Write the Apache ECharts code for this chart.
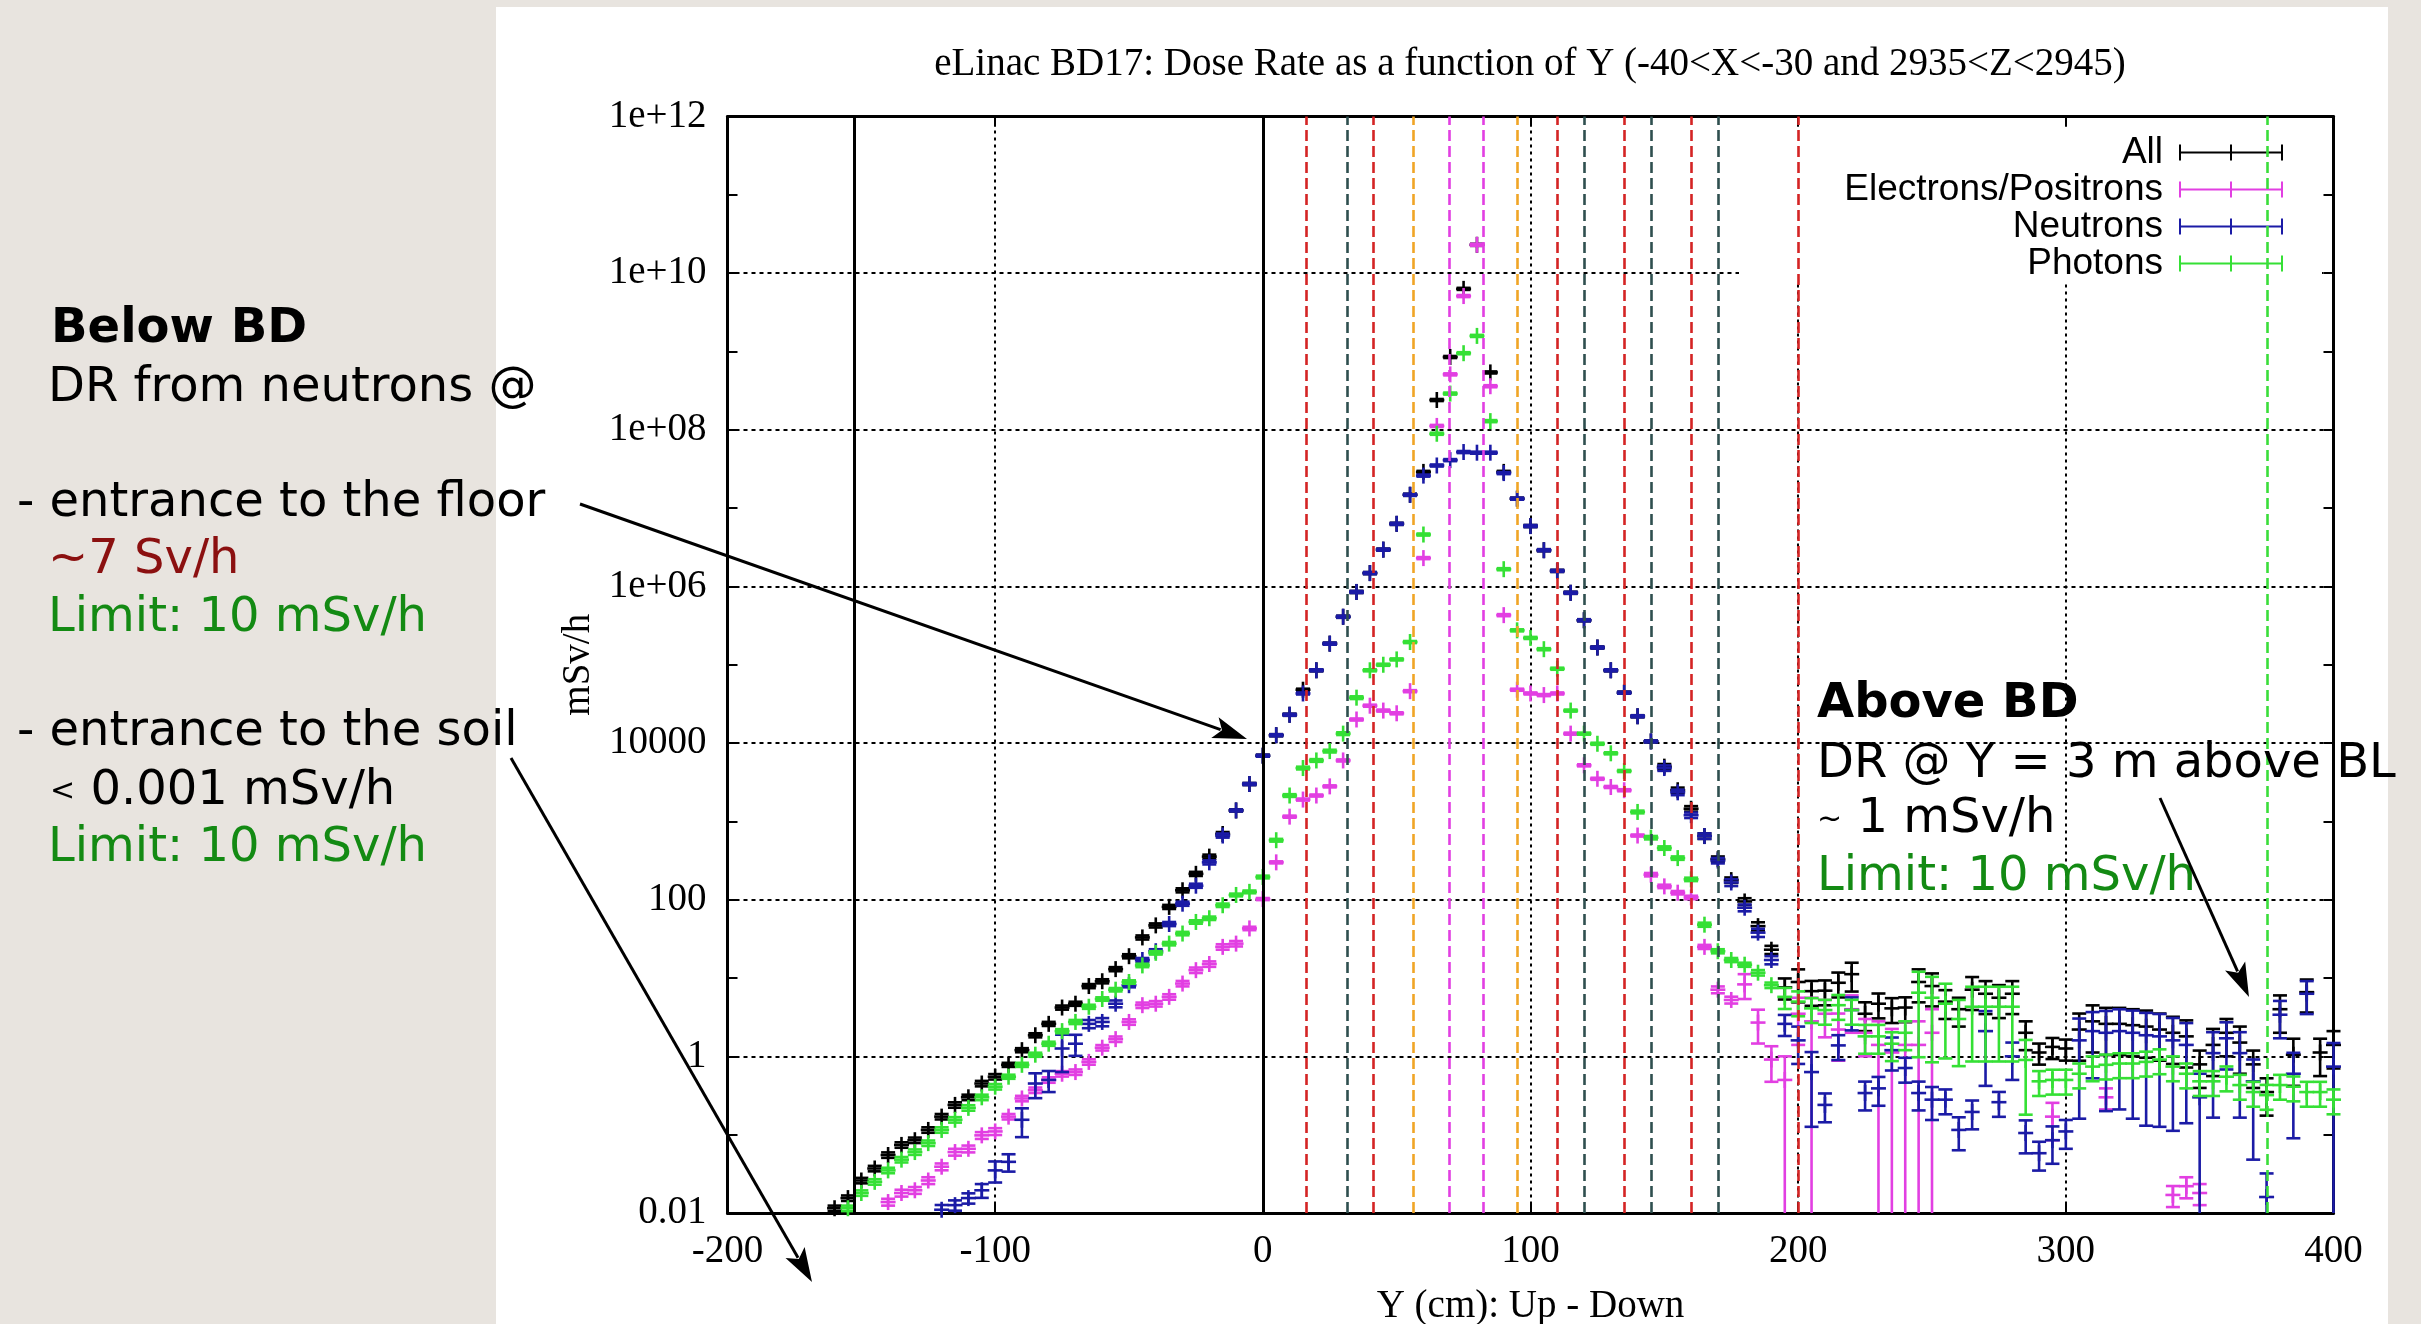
<!DOCTYPE html>
<html><head><meta charset="utf-8">
<script src="https://cdn.jsdelivr.net/npm/echarts@6/dist/echarts.min.js"></script>
<style>
html,body{margin:0;padding:0;background:#e8e4df;width:2421px;height:1324px;overflow:hidden;}
#panel{position:absolute;left:496px;top:7px;width:1892px;height:1317px;background:#fff;}
#chart{position:absolute;left:0;top:0;width:2421px;height:1324px;}
</style></head><body>
<div id="panel"></div>
<div id="chart"></div>
<script>
// ---------- DATA ----------
const titleText = 'eLinac BD17: Dose Rate as a function of Y (-40<X<-30 and 2935<Z<2945)';
const xAxisName = 'Y (cm): Up - Down';
const yAxisName = 'mSv/h';
const yTickExponents = [-2, 0, 2, 4, 6, 8, 10, 12];
const yTickLabels = ['0.01', '1', '100', '10000', '1e+06', '1e+08', '1e+10', '1e+12'];
const seriesNames = ['All', 'Electrons/Positrons', 'Neutrons', 'Photons'];

// bin centres (cm)
const yPositions = [
 -160,-155,-150,-145,-140,-135,-130,-125,-120,-115,
 -110,-105,-100,-95,-90,-85,-80,-75,-70,-65,
 -60,-55,-50,-45,-40,-35,-30,-25,-20,-15,
 -10,-5,0,5,10,15,20,25,30,35,
 40,45,50,55,60,65,70,75,80,85,
 90,95,100,105,110,115,120,125,130,135,
 140,145,150,155,160,165,170,175,180,185,
 190,195,200,205,210,215,220,225,230,235,
 240,245,250,255,260,265,270,275,280,285,
 290,295,300,305,310,315,320,325,330,335,
 340,345,350,355,360,365,370,375,380,385,
 390,395,400];

// dose rates (mSv/h)
const allValues = [
 1.15e-2,1.55e-2,2.6e-2,3.7e-2,5.5e-2,7.4e-2,8.5e-2,0.115,0.17,0.24,
 0.30,0.45,0.55,0.78,1.2,1.86,2.6,4.2,4.7,7.9,
 9.1,13,19,33,47,81,132,214,355,690,
 1380,3000,6900,1.26e4,2.3e4,4.8e4,8.5e4,1.86e5,4.1e5,8.5e5,
 1.48e6,2.95e6,6.3e6,1.48e7,2.9e7,2.4e8,8.5e8,6.3e9,2.3e10,5.4e8,
 2.9e7,1.32e7,5.9e6,2.9e6,1.58e6,8.3e5,3.7e5,1.66e5,8.5e4,4.4e4,
 2.2e4,1.05e4,5000,2500,1450,650,330,178,95,46,
 23,7.6,8.9,6.8,6.9,8.7,11.2,3.5,4.7,4.1,
 4.2,8.9,7.9,5.0,4.0,7.1,6.3,5.6,6.3,2.0,
 1.12,1.32,1.26,2.2,2.8,2.6,2.6,2.5,2.4,2.2,
 2.0,1.8,0.79,1.4,2.0,1.5,0.79,0.35,4.0,1.05,
 6.6,1.12,1.4];
const allErrors = [
 .08,.08,.08,.08,.08,.08,.08,.08,.08,.08,
 .08,.08,.08,.06,.06,.06,.06,.06,.06,.06,
 .06,.06,.06,.06,.06,.06,.06,.06,.06,.06,
 .03,.03,.03,.03,.03,.03,.03,.03,.03,.03,
 .03,.03,.03,.03,.03,.03,.03,.03,.03,.03,
 .03,.03,.03,.03,.03,.03,.03,.03,.03,.03,
 .03,.03,.08,.08,.08,.08,.08,.08,.1,.12,
 .12,.3,.45,.35,.35,.35,.4,.4,.35,.35,
 .35,.45,.45,.4,.4,.45,.45,.45,.45,.4,
 .3,.3,.3,.6,.6,.6,.6,.6,.6,.6,
 .6,.6,.5,.6,.5,.6,.5,.5,.5,.6,
 .45,.5,.5];

const electronValues = [
 null,null,null,null,1.38e-2,1.8e-2,1.95e-2,2.6e-2,3.9e-2,6.0e-2,
 6.6e-2,9.8e-2,0.11,0.17,0.29,0.37,0.5,0.6,0.63,0.85,
 1.29,1.66,2.75,4.5,4.7,5.75,8.5,12.6,15.1,25,
 27.5,43,102,300,1150,1900,2140,2800,6000,2.0e4,
 3.0e4,2.6e4,2.4e4,4.6e4,2.3e6,1.12e8,5.1e8,5.1e9,2.3e10,3.6e8,
 4.3e5,4.8e4,4.3e4,4.1e4,4.3e4,1.32e4,5200,3500,2750,2500,
 660,209,148,123,107,25,7.1,5.25,8.3,2.7,
 0.91,0.5,3.5,2.8,3.5,2.2,4.0,2.0,1.4,1.12,
 1.4,1.4,2.0,null,null,null,null,null,null,null,
 null,0.17,null,null,null,0.3,null,null,null,null,
 1.7e-2,2.2e-2,1.8e-2,null,null,null,null,null,null,null,
 null,null,null];
const electronErrors = [
 null,null,null,null,.1,.1,.1,.1,.1,.1,
 .1,.1,.1,.08,.08,.08,.08,.08,.08,.08,
 .08,.08,.08,.08,.08,.08,.08,.08,.08,.08,
 .08,.05,.03,.03,.03,.03,.03,.03,.03,.03,
 .03,.03,.03,.03,.03,.03,.03,.03,.03,.03,
 .03,.03,.03,.03,.03,.03,.03,.03,.03,.03,
 .03,.05,.05,.05,.05,.06,.1,.1,.35,.46,
 .48,1,.6,1,.5,.6,.5,.5,1,1,
 1,1,1,null,null,null,null,null,null,null,
 null,.5,null,null,null,.3,null,null,null,null,
 .3,.3,.3,null,null,null,null,null,null,null,
 null,null,null];

const neutronValues = [
 null,null,null,null,null,null,null,null,1.1e-2,1.26e-2,
 1.55e-2,1.95e-2,3.5e-2,4.5e-2,0.155,0.45,0.5,1.26,1.45,2.6,
 2.75,4.7,8.1,17,22,49,89,151,300,660,
 1380,3000,6900,1.26e4,2.3e4,4.3e4,8.5e4,1.86e5,4.1e5,8.5e5,
 1.48e6,2.95e6,6.3e6,1.48e7,2.6e7,3.5e7,4.1e7,5.2e7,5.1e7,5.1e7,
 2.8e7,1.32e7,5.9e6,2.9e6,1.58e6,8.3e5,3.7e5,1.66e5,8.5e4,4.4e4,
 2.2e4,1.05e4,4800,2350,1200,650,316,166,79,38,
 17,2.6,1.6,0.63,0.24,1.38,3.9,0.34,0.39,1.2,
 0.71,0.34,0.28,0.28,0.115,0.195,2.1,0.26,1.0,0.105,
 0.058,0.085,0.11,1.6,2.1,2.0,2.1,2.0,1.86,1.8,
 1.6,1.4,0.3,1.1,1.7,1.1,0.48,0.016,3.4,0.6,
 6.3,null,0.74];
const neutronErrors = [
 null,null,null,null,null,null,null,null,.15,.15,
 .15,.2,.3,.25,.4,.35,.3,.5,.3,.12,
 .12,.1,.06,.06,.06,.06,.06,.06,.06,.06,
 .03,.03,.03,.03,.03,.03,.03,.03,.03,.03,
 .03,.03,.03,.03,.03,.03,.03,.03,.03,.03,
 .03,.03,.03,.03,.03,.03,.03,.03,.03,.03,
 .03,.03,.08,.08,.08,.08,.08,.1,.1,.12,
 .12,.3,.5,.8,.4,.35,.45,.4,.4,.45,
 .35,.4,.45,.35,.45,.4,.8,.35,.5,.45,
 .4,.5,.4,.9,.75,.9,.9,.92,.93,.93,
 .93,.9,1,.85,.6,.85,.9,1,.5,.85,
 .45,null,1];

const photonValues = [
 null,1.15e-2,1.8e-2,2.5e-2,3.5e-2,4.8e-2,6.0e-2,7.8e-2,0.115,0.155,
 0.22,0.30,0.41,0.55,0.78,1.05,1.45,2.1,2.75,4.3,
 5.4,7.1,8.9,14.5,21,27.5,37,52,58,85,
 115,126,195,575,2140,4800,6000,7900,1.32e4,3.8e4,
 8.5e4,1.0e5,1.17e5,1.95e5,4.6e6,8.9e7,2.9e8,9.5e8,1.58e9,1.29e8,
 1.66e6,2.75e5,2.2e5,1.58e5,8.9e4,2.6e4,1.32e4,9800,7400,4400,
 1320,620,457,340,182,48,22,17,14.8,11.7,
 8.1,5.75,5.0,4.1,3.9,4.5,3.9,1.8,1.8,1.45,
 2.0,6.5,5.6,4.7,3.0,4.3,4.3,4.3,4.3,0.9,
 0.48,0.5,0.5,0.6,0.74,0.78,0.81,0.81,0.85,0.91,
 0.74,0.6,0.48,0.48,0.55,0.43,0.35,0.32,0.43,0.41,
 0.35,0.35,0.28];
const photonErrors = [
 null,.08,.08,.08,.08,.08,.08,.08,.08,.08,
 .08,.08,.08,.06,.06,.06,.06,.06,.06,.06,
 .05,.05,.05,.05,.05,.05,.05,.05,.05,.05,
 .04,.04,.04,.04,.04,.04,.04,.04,.04,.04,
 .03,.03,.03,.03,.03,.03,.03,.03,.03,.03,
 .03,.03,.03,.03,.03,.03,.03,.03,.03,.03,
 .04,.05,.05,.05,.05,.06,.06,.06,.06,.08,
 .08,.3,.35,.35,.35,.35,.35,.4,.4,.4,
 .4,.85,.85,.8,.75,.8,.8,.8,.8,.8,
 .35,.35,.35,.35,.35,.35,.35,.35,.35,.35,
 .35,.35,.35,.35,.35,.35,.35,.35,.35,.35,
 .35,.35,.35];

// vertical reference lines (cm)
const boundaryX = [-152.5, 0, 16.3, 31.6, 41.1, 56.2, 69.6, 82.4, 95.1, 110, 120.2, 135.2, 145, 160, 170, 200, 375.4];
const boundaryKind = ['wall','wall','red','slate','red','orange','magenta','magenta','orange','red','slate','red','slate','red','slate','red','green'];

// annotation texts
const leftNotes = [
 {text:'Below BD', bold:true, color:'#000'},
 {text:'DR from neutrons @', color:'#000'},
 {text:'- entrance to the floor', color:'#000'},
 {text:'~7 Sv/h', color:'#8b1010'},
 {text:'Limit: 10 mSv/h', color:'#138a13'},
 {text:'- entrance to the soil', color:'#000'},
 {text:'{s|<} 0.001 mSv/h', color:'#000'},
 {text:'Limit: 10 mSv/h', color:'#138a13'}
];
const rightNotes = [
 {text:'Above BD', bold:true, color:'#000'},
 {text:'DR @ Y = 3 m above BL', color:'#000'},
 {text:'{s|~} 1 mSv/h', color:'#000'},
 {text:'Limit: 10 mSv/h', color:'#138a13'}
];

// ---------- STYLE / LAYOUT ----------
const seriesColors = ['#000000', '#e23fe2', '#1b1ba6', '#35e035'];
const kindStyle = {
  wall:    {color:'#000000', width:3, type:'solid'},
  red:     {color:'#d42424', width:2.6, type:[11,5]},
  slate:   {color:'#2f4f4f', width:2.6, type:[11,5]},
  orange:  {color:'#f0a526', width:2.6, type:[11,5]},
  magenta: {color:'#e23fe2', width:2.6, type:[11,5]},
  green:   {color:'#3ade3a', width:2.6, type:[11,5]}
};
const Y_MIN = 0.01, Y_MAX = 1e12;

function buildData(vals, errs) {
  const out = [];
  for (let i = 0; i < yPositions.length; i++) {
    const v = vals[i];
    if (v == null) continue;
    const e = errs[i] || 0;
    let lo = v * (1 - e), clipped = 0;
    if (lo <= Y_MIN) { lo = Y_MIN; clipped = 1; }
    out.push([yPositions[i], v, lo, v * (1 + e), clipped]);
  }
  return out;
}

function renderErrorPoint(params, api) {
  const x = api.value(0), y = api.value(1), lo = api.value(2), hi = api.value(3), clipped = api.value(4);
  const c = api.coord([x, y]);
  const pl = api.coord([x, lo]);
  const ph = api.coord([x, hi]);
  const color = api.visual('color');
  const st = {stroke: color, lineWidth: 2.6, fill: null};
  const hw = 7.5, hh = 8, cw = 7;
  const kids = [
    {type:'line', shape:{x1:c[0]-hw, y1:c[1], x2:c[0]+hw, y2:c[1]}, style:st},
    {type:'line', shape:{x1:c[0], y1:c[1]-hh, x2:c[0], y2:c[1]+hh}, style:st},
    {type:'line', shape:{x1:c[0], y1:pl[1], x2:c[0], y2:ph[1]}, style:st},
    {type:'line', shape:{x1:c[0]-cw, y1:ph[1], x2:c[0]+cw, y2:ph[1]}, style:st}
  ];
  if (!clipped) kids.push({type:'line', shape:{x1:c[0]-cw, y1:pl[1], x2:c[0]+cw, y2:pl[1]}, style:st});
  return {type:'group', children:kids};
}

function arrow(x1, y1, x2, y2) {
  const dx = x2 - x1, dy = y2 - y1, L = Math.hypot(dx, dy), ux = dx / L, uy = dy / L;
  const hl = 34, hw = 11;
  const bx = x2 - ux * hl, by = y2 - uy * hl;
  return [
    {type:'line', z:20, silent:true, shape:{x1:x1, y1:y1, x2:bx + ux*6, y2:by + uy*6}, style:{stroke:'#000', lineWidth:3}},
    {type:'polygon', z:20, silent:true, shape:{points:[[x2,y2],[bx - uy*hw, by + ux*hw],[x2 - ux*hl*0.78, y2 - uy*hl*0.78],[bx + uy*hw, by - ux*hw]]}, style:{fill:'#000'}}
  ];
}

function noteText(n, x, y) {
  return {type:'text', z:20, silent:true, style:{
    text:n.text, x:x, y:y, fill:n.color, fontFamily:'DejaVu Sans', fontSize:48,
    fontWeight:n.bold ? 'bold' : 'normal', align:'left', verticalAlign:'middle',
    rich:{s:{fontSize:30, fontFamily:'DejaVu Sans', fill:n.color, verticalAlign:'middle'}}
  }};
}

const leftXs = [51, 48, 17, 48, 48, 17, 50, 48];
const leftYs = [330, 389, 504, 561, 619, 733, 792, 849];
const rightYs = [705, 765, 820, 878];

const graphics = [
  {type:'rect', z:1, silent:true, shape:{x:1739, y:128, width:583, height:154}, style:{fill:'#ffffff'}},
  {type:'text', z:20, silent:true, style:{text:titleText, x:1530, y:65, fill:'#000', fontFamily:'Liberation Serif', fontSize:39, align:'center', verticalAlign:'middle'}}
];
leftNotes.forEach((n, i) => graphics.push(noteText(n, leftXs[i], leftYs[i])));
rightNotes.forEach((n, i) => graphics.push(noteText(n, 1817, rightYs[i])));
graphics.push(...arrow(580, 504, 1247, 739));
graphics.push(...arrow(511, 758, 812, 1282));
graphics.push(...arrow(2160, 798, 2249, 997));

const valueSets = [[allValues, allErrors], [electronValues, electronErrors], [neutronValues, neutronErrors], [photonValues, photonErrors]];

const series = [{
  type:'line', name:'refLines', data:[], xAxisIndex:0, yAxisIndex:0, z:2, silent:true,
  markLine:{
    silent:true, symbol:['none','none'], animation:false, label:{show:false},
    data: boundaryX.map((v, i) => ({xAxis:v, lineStyle:kindStyle[boundaryKind[i]]}))
  }
}];
seriesNames.forEach((name, k) => {
  series.push({
    type:'custom', name:name, xAxisIndex:0, yAxisIndex:0, z:3, clip:false,
    itemStyle:{color:seriesColors[k]},
    encode:{x:0, y:1},
    renderItem:renderErrorPoint,
    data:buildData(valueSets[k][0], valueSets[k][1])
  });
});

const legendIcon = 'path://M0,0h2v16h-2z M0,7h104v2h-104z M51,0h2v16h-2z M102,0h2v16h-2z';
const serifFont = 'Liberation Serif';
const tickStyle = {show:true, inside:true, length:10, lineStyle:{color:'#000', width:2}};
const frameLine = {show:true, onZero:false, lineStyle:{color:'#000', width:3}};

const option = {
  backgroundColor:'transparent',
  animation:false,
  grid:{left:727.5, right:87.5, top:116.5, bottom:111, containLabel:false, outerBoundsMode:'none'},
  legend:{
    orient:'vertical', right:133, top:129, align:'right',
    itemWidth:104, itemHeight:16, itemGap:0, selectedMode:false,
    itemStyle:{borderWidth:0},
    data:seriesNames.map(n => ({name:n, icon:legendIcon})),
    textStyle:{fontFamily:'Liberation Sans', fontSize:37, color:'#000', lineHeight:36.5, padding:[0,11,0,0]}
  },
  xAxis:[
    {type:'value', position:'bottom', min:-200, max:400, interval:100,
     axisLine:frameLine, axisTick:tickStyle,
     axisLabel:{color:'#000', fontFamily:serifFont, fontSize:39, margin:19, lineHeight:39},
     splitLine:{show:true, lineStyle:{color:'#000', width:2, type:[3,4]}},
     name:xAxisName, nameLocation:'middle', nameGap:74,
     nameTextStyle:{color:'#000', fontFamily:serifFont, fontSize:39, lineHeight:39}},
    {type:'value', position:'top', min:-200, max:400, interval:100,
     axisLine:frameLine, axisTick:tickStyle, axisLabel:{show:false}, splitLine:{show:false}}
  ],
  yAxis:[
    {type:'log', logBase:10, min:Y_MIN, max:Y_MAX, show:false},
    {type:'value', position:'left', min:-2, max:12, interval:1,
     axisLine:frameLine, axisTick:tickStyle, axisLabel:{show:false}, splitLine:{show:false}},
    {type:'value', position:'left', min:-2, max:12, interval:2,
     axisLine:{show:false, onZero:false}, axisTick:{show:false},
     axisLabel:{color:'#000', fontFamily:serifFont, fontSize:39, margin:21,
       formatter:(v) => { const i = yTickExponents.indexOf(v); return i >= 0 ? yTickLabels[i] : ''; }},
     splitLine:{show:true, lineStyle:{color:'#000', width:2, type:[4,4]}},
     name:yAxisName, nameLocation:'middle', nameGap:112, nameRotate:90,
     nameTextStyle:{color:'#000', fontFamily:serifFont, fontSize:39}},
    {type:'value', position:'right', min:-2, max:12, interval:1,
     axisLine:frameLine, axisTick:tickStyle, axisLabel:{show:false}, splitLine:{show:false}}
  ],
  graphic:graphics,
  series:series
};

const chart = echarts.init(document.getElementById('chart'), null, {renderer:'canvas'});
chart.setOption(option);
</script>
</body></html>
